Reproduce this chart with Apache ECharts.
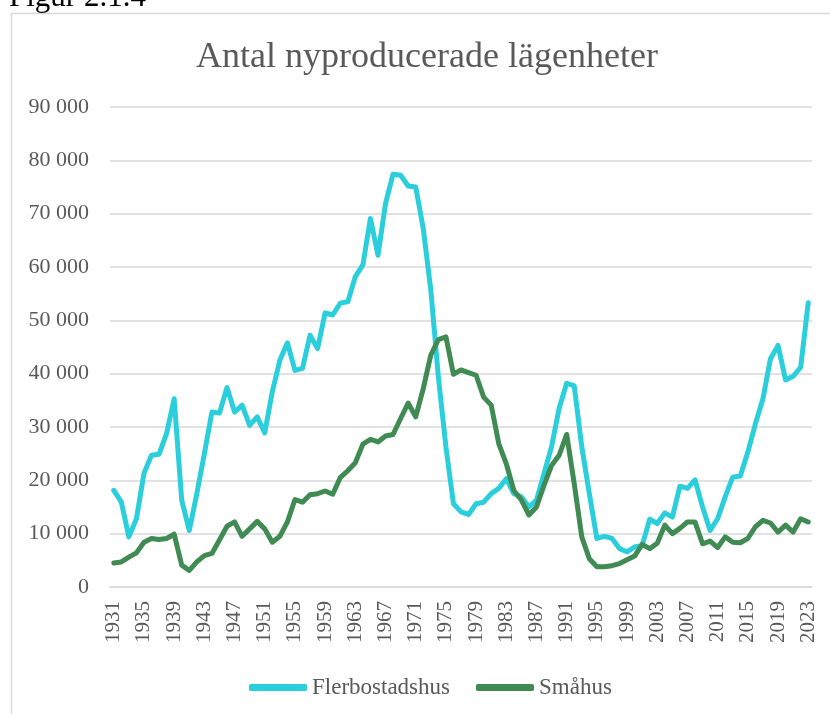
<!DOCTYPE html>
<html>
<head>
<meta charset="utf-8">
<script src="https://cdn.jsdelivr.net/npm/echarts@6/dist/echarts.min.js"></script>
<style>
  html, body { margin: 0; padding: 0; background: #fff; }
  #chart { width: 830px; height: 714px; }
</style>
</head>
<body>
<div id="chart"></div>
<script>
// år 1931-2023
var years = [
  '1931', '1932', '1933', '1934', '1935', '1936', '1937', '1938', '1939', '1940',
  '1941', '1942', '1943', '1944', '1945', '1946', '1947', '1948', '1949', '1950',
  '1951', '1952', '1953', '1954', '1955', '1956', '1957', '1958', '1959', '1960',
  '1961', '1962', '1963', '1964', '1965', '1966', '1967', '1968', '1969', '1970',
  '1971', '1972', '1973', '1974', '1975', '1976', '1977', '1978', '1979', '1980',
  '1981', '1982', '1983', '1984', '1985', '1986', '1987', '1988', '1989', '1990',
  '1991', '1992', '1993', '1994', '1995', '1996', '1997', '1998', '1999', '2000',
  '2001', '2002', '2003', '2004', '2005', '2006', '2007', '2008', '2009', '2010',
  '2011', '2012', '2013', '2014', '2015', '2016', '2017', '2018', '2019', '2020',
  '2021', '2022', '2023'
];

var flerbostadshus = [
  18100, 15900, 9400, 12800, 21300, 24700, 24900, 28800, 35300, 16300,
  10600, 17500, 25000, 32800, 32600, 37400, 32800, 34100, 30300, 31900,
  28900, 36600, 42500, 45800, 40600, 41000, 47200, 44700, 51400, 51000,
  53200, 53500, 58200, 60400, 69100, 62200, 71900, 77400, 77200, 75200,
  75000, 67200, 55700, 39400, 26300, 15600, 14100, 13600, 15600, 15900,
  17500, 18500, 20300, 17500, 16900, 15000, 16300, 21300, 26300, 33500,
  38200, 37700, 26300, 17500, 9100, 9500, 9100, 7200, 6600, 7500,
  7800, 12700, 11900, 13900, 13100, 18900, 18500, 20100, 15000, 10600,
  12800, 16900, 20600, 20800, 25300, 30600, 35300, 42800, 45300, 38800,
  39500, 41200, 53300
];

var smahus = [
  4500, 4700, 5600, 6400, 8400, 9100, 8900, 9100, 9900, 4100,
  3100, 4700, 5900, 6300, 8800, 11400, 12200, 9500, 10900, 12300,
  10900, 8400, 9500, 12200, 16400, 15900, 17300, 17500, 18000, 17400,
  20500, 21800, 23300, 26800, 27700, 27200, 28300, 28600, 31600, 34500,
  31900, 37200, 43500, 46400, 46900, 39900, 40700, 40200, 39700, 35600,
  34100, 26900, 23100, 18100, 16300, 13500, 15000, 19100, 22800, 24700,
  28600, 19400, 9400, 5300, 3800, 3800, 4000, 4400, 5100, 5800,
  8000, 7200, 8200, 11600, 10000, 11000, 12200, 12200, 8100, 8600,
  7400, 9400, 8400, 8300, 9100, 11300, 12500, 12000, 10300, 11600,
  10300, 12800, 12200
];

var seriesNames = ['Flerbostadshus', 'Småhus'];
var seriesColors = ['#2acfdb', '#408b53'];

var serif = "'Liberation Serif', 'DejaVu Serif', serif";
var grey = '#595959';

function fmt (v) {
  return String(v).replace(/\B(?=(\d{3})+(?!\d))/g, ' ');
}

var chart = echarts.init(document.getElementById('chart'));
chart.setOption({
  animation: false,
  backgroundColor: '#fff',
  graphic: [
    {
      type: 'rect',
      shape: { x: 11.5, y: 13.5, width: 840, height: 720 },
      style: { fill: 'none', stroke: '#d9d9d9', lineWidth: 1.5 }
    },
    {
      type: 'text',
      x: 9,
      y: -18,
      style: { text: 'Figur 2.1.4', font: '31px ' + serif, fill: '#000' }
    }
  ],
  title: {
    text: 'Antal nyproducerade lägenheter',
    left: 422,
    top: 35,
    textAlign: 'center',
    textStyle: {
      fontFamily: serif,
      fontSize: 36,
      fontWeight: 'normal',
      color: grey
    }
  },
  legend: {
    left: 244,
    top: 671,
    itemWidth: 58,
    itemHeight: 7,
    itemGap: 26,
    textStyle: { fontFamily: serif, fontSize: 23, color: grey },
    data: [
      { name: seriesNames[0], icon: 'roundRect' },
      { name: seriesNames[1], icon: 'roundRect' }
    ]
  },
  grid: {
    left: 110,
    right: 18,
    top: 107,
    bottom: 127,
    containLabel: false
  },
  xAxis: {
    type: 'category',
    data: years,
    boundaryGap: true,
    axisLine: { show: true, lineStyle: { color: '#d9d9d9', width: 1.5 } },
    axisTick: { show: false },
    axisLabel: {
      interval: 3,
      rotate: 90,
      margin: 14,
      fontFamily: serif,
      fontSize: 21,
      color: grey
    }
  },
  yAxis: {
    type: 'value',
    min: 0,
    max: 90000,
    interval: 10000,
    axisLine: { show: false },
    axisTick: { show: false },
    splitLine: { lineStyle: { color: '#d9d9d9', width: 1.5 } },
    axisLabel: {
      margin: 21,
      fontFamily: serif,
      fontSize: 22,
      color: grey,
      formatter: fmt
    }
  },
  series: [
    {
      name: seriesNames[0],
      type: 'line',
      data: flerbostadshus,
      symbol: 'none',
      color: seriesColors[0],
      lineStyle: { width: 5, cap: 'round', join: 'round' }
    },
    {
      name: seriesNames[1],
      type: 'line',
      data: smahus,
      symbol: 'none',
      color: seriesColors[1],
      lineStyle: { width: 5, cap: 'round', join: 'round' }
    }
  ]
});
</script>
</body>
</html>
